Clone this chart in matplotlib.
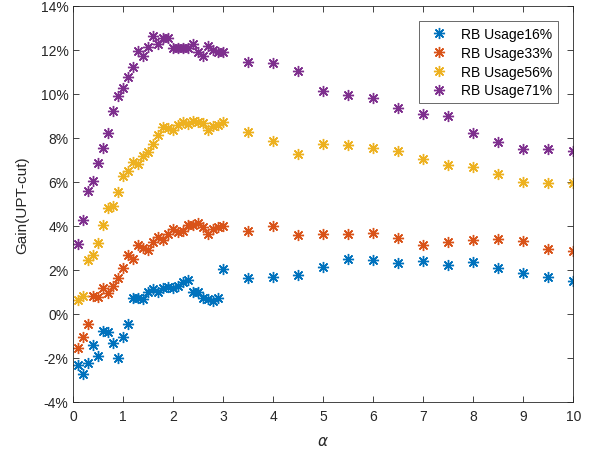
import matplotlib
matplotlib.use("Agg")
import matplotlib.pyplot as plt
from matplotlib.ticker import FuncFormatter

# alpha sweep: fine steps up to 3, then coarse steps to 10
alpha = [0.1, 0.2, 0.3, 0.4, 0.5, 0.6, 0.7, 0.8, 0.9, 1.0,
         1.1, 1.2, 1.3, 1.4, 1.5, 1.6, 1.7, 1.8, 1.9, 2.0,
         2.1, 2.2, 2.3, 2.4, 2.5, 2.6, 2.7, 2.8, 2.9, 3.0,
         3.5, 4.0, 4.5, 5.0, 5.5, 6.0, 6.5, 7.0, 7.5, 8.0,
         8.5, 9.0, 9.5, 10.0]

# gain in percent
gain_16 = [-2.32, -2.76, -2.24, -1.42, -1.91, -0.77, -0.85, -1.33, -2.03, -1.05,
           -0.45, 0.71, 0.71, 0.67, 1.00, 1.12, 0.97, 1.17, 1.20, 1.17,
           1.27, 1.45, 1.55, 1.00, 1.00, 0.71, 0.65, 0.56, 0.71, 2.03,
           1.61, 1.65, 1.77, 2.11, 2.49, 2.44, 2.30, 2.38, 2.21, 2.34,
           2.06, 1.85, 1.68, 1.49]
gain_33 = [-1.55, -1.05, -0.45, 0.82, 0.74, 1.18, 0.93, 1.27, 1.61, 2.09,
           2.68, 2.49, 3.12, 2.97, 2.91, 3.25, 3.47, 3.36, 3.62, 3.85,
           3.70, 3.77, 4.03, 4.03, 4.12, 3.95, 3.62, 3.85, 3.93, 4.00,
           3.77, 4.00, 3.58, 3.62, 3.62, 3.68, 3.45, 3.12, 3.27, 3.36,
           3.41, 3.32, 2.94, 2.85]
gain_56 = [0.64, 0.82, 2.44, 2.68, 3.21, 4.05, 4.79, 4.91, 5.52, 6.27,
           6.50, 6.91, 6.80, 7.18, 7.34, 7.71, 8.12, 8.47, 8.43, 8.35,
           8.58, 8.70, 8.62, 8.77, 8.70, 8.67, 8.36, 8.52, 8.58, 8.73,
           8.25, 7.86, 7.25, 7.70, 7.67, 7.55, 7.38, 7.03, 6.77, 6.67,
           6.36, 5.97, 5.94, 5.94]
gain_71 = [3.17, 4.26, 5.59, 6.02, 6.85, 7.52, 8.21, 9.23, 9.88, 10.26,
           10.77, 11.20, 11.94, 11.73, 12.15, 12.64, 12.26, 12.52, 12.53, 12.09,
           12.09, 12.06, 12.06, 12.26, 11.88, 11.73, 12.18, 12.00, 11.91, 11.91,
           11.45, 11.38, 11.05, 10.14, 9.94, 9.79, 9.34, 9.06, 8.97, 8.23,
           7.82, 7.49, 7.49, 7.38]

series = [gain_16, gain_33, gain_56, gain_71]
labels = ["RB Usage16%", "RB Usage33%", "RB Usage56%", "RB Usage71%"]
colors = ["#0072BD", "#D95319", "#EDB120", "#7E2F8E"]

plt.rcParams["font.family"] = ["Liberation Sans", "DejaVu Sans"]
fig = plt.figure(figsize=(5.91, 4.56), dpi=100)
ax = fig.add_axes([0.124, 0.117, 0.846, 0.868])

asterisk = (8, 2, 0)
for ys, lab, c in zip(series, labels, colors):
    ax.plot(alpha, ys, linestyle="none", marker=asterisk, markersize=8,
            markeredgewidth=1.0, color=c, label=lab)

ax.set_xlim(0, 10)
ax.set_ylim(-4, 14)
ax.set_xticks(range(0, 11))
ax.set_yticks(range(-4, 15, 2))
ax.yaxis.set_major_formatter(FuncFormatter(lambda v, p: f"{v:.0f}%"))

axis_col = "#262626"
for s in ax.spines.values():
    s.set_color(axis_col)
    s.set_linewidth(0.6)
ax.tick_params(direction="in", length=4, width=0.6, colors=axis_col,
               labelsize=10, top=True, right=True)
ax.tick_params(axis="x", pad=5)

ax.set_xlabel(r"$\alpha$", fontsize=11, color=axis_col, labelpad=8)
ax.set_ylabel("Gain(UPT-cut)", fontsize=11, color=axis_col, labelpad=8)

leg = ax.legend(loc="upper right", bbox_to_anchor=(0.969, 0.961),
                borderaxespad=0, fontsize=10, frameon=True, fancybox=False,
                borderpad=0.4, handlelength=2.0, handletextpad=0.6,
                labelspacing=0.35)
leg.get_frame().set_edgecolor(axis_col)
leg.get_frame().set_linewidth(0.6)

fig.savefig("out.png", dpi=100)
